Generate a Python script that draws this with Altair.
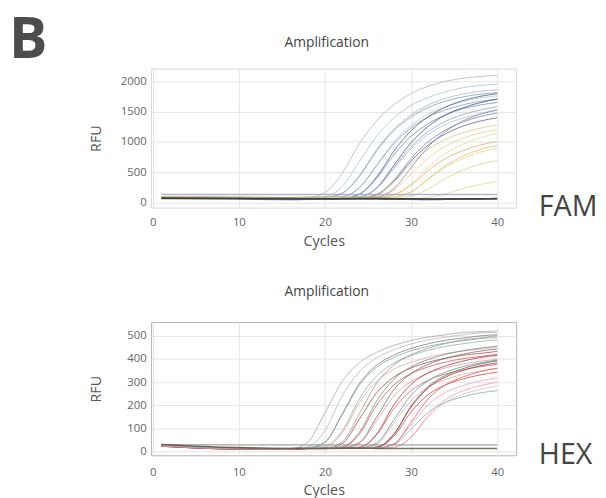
import altair as alt
import pandas as pd

CYCLES = [1, 10, 16, 18, 20, 22, 24, 26, 28, 30, 32, 34, 36, 38, 40]

# ---------------- FAM panel (RFU at CYCLES) ----------------
FAM_01 = [95, 85, 81, 85, 166, 488, 972, 1354, 1616, 1798, 1919, 1999, 2050, 2080, 2100]
FAM_02 = [90, 80, 76, 80, 99, 268, 682, 1095, 1396, 1603, 1734, 1828, 1894, 1932, 1951]
FAM_03 = [90, 80, 76, 80, 80, 152, 440, 872, 1214, 1448, 1610, 1718, 1790, 1835, 1862]
FAM_04 = [100, 90, 86, 90, 90, 160, 438, 856, 1186, 1412, 1569, 1673, 1743, 1787, 1813]
FAM_05 = [85, 75, 71, 75, 75, 92, 246, 623, 999, 1273, 1462, 1582, 1667, 1727, 1761]
FAM_06 = [95, 85, 81, 85, 85, 101, 249, 610, 972, 1234, 1415, 1530, 1612, 1670, 1702]
FAM_07 = [80, 70, 66, 70, 70, 70, 141, 424, 849, 1186, 1416, 1575, 1682, 1752, 1797]
FAM_08 = [90, 80, 76, 80, 80, 80, 144, 402, 789, 1095, 1304, 1449, 1546, 1610, 1651]
FAM_09 = [85, 75, 71, 75, 75, 75, 92, 244, 616, 988, 1259, 1445, 1563, 1648, 1707]
FAM_10 = [95, 85, 81, 85, 85, 85, 101, 240, 582, 923, 1171, 1342, 1451, 1528, 1583]
FAM_11 = [90, 80, 76, 80, 80, 80, 95, 229, 557, 886, 1124, 1289, 1393, 1468, 1520]
FAM_12 = [90, 80, 76, 80, 80, 80, 80, 139, 374, 727, 1007, 1198, 1330, 1419, 1477]
FAM_13 = [80, 70, 66, 70, 70, 70, 70, 126, 350, 686, 952, 1134, 1260, 1344, 1400]
FAM_14 = [100, 90, 86, 90, 90, 90, 90, 140, 340, 640, 878, 1041, 1153, 1228, 1278]
FAM_15 = [95, 85, 81, 85, 85, 85, 85, 97, 206, 471, 736, 929, 1062, 1146, 1207]
FAM_16 = [85, 75, 71, 75, 75, 75, 75, 91, 232, 577, 922, 1173, 1346, 1456, 1534]
FAM_17 = [90, 80, 76, 80, 80, 80, 80, 80, 127, 313, 592, 813, 964, 1069, 1138]
FAM_18 = [100, 90, 86, 90, 90, 90, 90, 90, 130, 292, 535, 727, 858, 949, 1010]
FAM_19 = [90, 80, 76, 80, 80, 80, 80, 80, 90, 178, 394, 610, 767, 875, 944]
FAM_20 = [95, 85, 81, 85, 85, 85, 85, 85, 94, 177, 379, 582, 729, 830, 895]
FAM_21 = [90, 80, 76, 80, 80, 80, 80, 80, 80, 109, 225, 399, 537, 631, 696]
FAM_22 = [85, 75, 71, 75, 75, 75, 75, 75, 75, 75, 89, 146, 232, 300, 346]
FAM_FLAT_1 = [136, 135, 134, 135, 135, 134, 135, 136, 135, 134, 135, 135, 136, 135, 135]
FAM_FLAT_2 = [78, 66, 58, 60, 62, 64, 66, 64, 62, 60, 58, 60, 62, 63, 64]
FAM_FLAT_3 = [70, 75, 72, 70, 68, 66, 68, 70, 66, 64, 62, 62, 64, 66, 68]

FAM_SERIES = [FAM_01, FAM_02, FAM_03, FAM_04, FAM_05, FAM_06, FAM_07, FAM_08,
              FAM_09, FAM_10, FAM_11, FAM_12, FAM_13, FAM_14, FAM_15, FAM_16,
              FAM_17, FAM_18, FAM_19, FAM_20, FAM_21, FAM_22,
              FAM_FLAT_1, FAM_FLAT_2, FAM_FLAT_3]
FAM_COLORS = ["#aab9cb", "#9cc4de", "#b3b5bd", "#7c9cc2", "#a9cde3", "#8d9cb3",
              "#475d88", "#6b8ec0", "#3f5480", "#9ba6b6", "#a3c5e6", "#7a89a4",
              "#56688a", "#e2c489", "#efc990", "#8b82a3", "#ead99f", "#e8ab5e",
              "#dab97b", "#e8d57a", "#d3d88a", "#d8dc9c",
              "#a0a0c4", "#2b3a5c", "#3c3c44"]
FAM_WIDTHS = [1] * 22 + [1.5, 2, 1.5]

# ---------------- HEX panel (RFU at CYCLES) ----------------
HEX_01 = [25, 12, 11, 40, 167, 303, 384, 429, 459, 480, 495, 505, 515, 518, 522]
HEX_02 = [25, 12, 11, 20, 90, 240, 345, 405, 440, 465, 483, 495, 505, 513, 515]
HEX_03 = [25, 12, 11, 15, 40, 162, 294, 373, 417, 446, 466, 481, 490, 500, 505]
HEX_04 = [25, 12, 11, 15, 39, 158, 287, 364, 407, 436, 455, 469, 479, 488, 493]
HEX_05 = [28, 15, 14, 18, 23, 88, 228, 326, 382, 415, 438, 455, 466, 476, 483]
HEX_06 = [24, 11, 10, 14, 18, 80, 211, 303, 356, 386, 408, 424, 434, 443, 450]
HEX_07 = [26, 13, 12, 16, 16, 41, 163, 295, 374, 418, 447, 467, 482, 491, 501]
HEX_08 = [22, 9, 8, 12, 12, 33, 140, 254, 322, 361, 386, 403, 416, 424, 433]
HEX_09 = [25, 12, 11, 15, 15, 20, 83, 218, 312, 366, 398, 420, 436, 447, 456]
HEX_10 = [23, 10, 9, 13, 13, 17, 75, 200, 287, 337, 366, 387, 401, 411, 420]
HEX_11 = [26, 13, 12, 16, 16, 16, 38, 148, 267, 337, 377, 403, 421, 434, 443]
HEX_12 = [24, 11, 10, 14, 14, 14, 34, 133, 240, 303, 339, 362, 378, 390, 398]
HEX_13 = [22, 9, 8, 12, 12, 12, 16, 75, 201, 290, 340, 370, 391, 406, 416]
HEX_14 = [25, 12, 11, 15, 15, 15, 19, 71, 184, 263, 308, 335, 353, 367, 376]
HEX_15 = [26, 13, 12, 16, 16, 16, 16, 36, 136, 243, 307, 343, 367, 383, 395]
HEX_16 = [23, 10, 9, 13, 13, 13, 13, 31, 122, 220, 279, 311, 333, 348, 359]
HEX_17 = [25, 12, 11, 15, 15, 15, 15, 19, 75, 196, 281, 329, 358, 378, 392]
HEX_18 = [22, 9, 8, 12, 12, 12, 12, 16, 65, 171, 246, 288, 313, 331, 343]
HEX_19 = [24, 11, 10, 14, 14, 14, 14, 18, 73, 192, 275, 322, 350, 370, 383]
HEX_20 = [26, 13, 12, 16, 16, 16, 16, 16, 32, 114, 203, 255, 285, 305, 318]
HEX_21 = [23, 10, 9, 13, 13, 13, 13, 13, 32, 126, 228, 288, 322, 345, 360]
HEX_22 = [25, 12, 11, 15, 15, 15, 15, 15, 18, 60, 149, 212, 247, 268, 283]
HEX_23 = [24, 11, 10, 14, 14, 14, 14, 14, 17, 62, 157, 224, 262, 284, 300]
HEX_24 = [25, 12, 11, 15, 15, 15, 15, 15, 29, 96, 169, 212, 236, 253, 263]
HEX_FLAT_1 = [29, 28, 28, 28, 28, 28, 28, 28, 28, 28, 28, 28, 28, 28, 28]
HEX_FLAT_2 = [30, 16, 12, 12, 13, 14, 14, 13, 12, 12, 12, 12, 12, 12, 12]

HEX_SERIES = [HEX_01, HEX_02, HEX_03, HEX_04, HEX_05, HEX_06, HEX_07, HEX_08,
              HEX_09, HEX_10, HEX_11, HEX_12, HEX_13, HEX_14, HEX_15, HEX_16,
              HEX_17, HEX_18, HEX_19, HEX_20, HEX_21, HEX_22, HEX_23, HEX_24,
              HEX_FLAT_1, HEX_FLAT_2]
HEX_COLORS = ["#a6a6a6", "#b8b8b8", "#7d7d7d", "#8aa898", "#86b896", "#eba3a3",
              "#999999", "#b04a4a", "#6f8f7f", "#d45555", "#707070", "#e99595",
              "#a83c3c", "#db6464", "#5e9c9c", "#eda5a5", "#4f6f62", "#cf4747",
              "#b03434", "#f0a3ab", "#da5d5d", "#f2b3b3", "#eb9aa5", "#74b5b5",
              "#8f8f8f", "#5a5040"]
HEX_WIDTHS = [1] * 24 + [1.3, 1.6]

X_TICKS = [0, 10, 20, 30, 40]
FAM_Y_TICKS = [0, 500, 1000, 1500, 2000]
HEX_Y_TICKS = [0, 100, 200, 300, 400, 500]
PANEL_TITLE = "Amplification"

FONT = "Open Sans"


def long_table(prefix, series, widths):
    rows = []
    for i, vals in enumerate(series):
        for c, v in zip(CYCLES, vals):
            rows.append({"curve": f"{prefix}{i:02d}", "cycle": c, "rfu": v, "w": widths[i]})
    return pd.DataFrame(rows)


def label(text, x, y, size, color, align="left", baseline="middle", weight="normal"):
    return alt.Chart(pd.DataFrame({"t": [text]})).mark_text(
        font=FONT, fontSize=size, color=color, align=align, baseline=baseline,
        fontWeight=weight
    ).encode(x=alt.value(x), y=alt.value(y), text="t:N")


def panel(prefix, series, colors, widths, ydomain, yticks, height, tag, tag_y,
          title_y, stroke, label_pad, title_pad, with_b):
    df = long_table(prefix, series, widths)
    names = [f"{prefix}{i:02d}" for i in range(len(series))]
    lines = alt.Chart(df).mark_line(interpolate="monotone", opacity=0.8).encode(
        x=alt.X("cycle:Q",
                scale=alt.Scale(domain=[-0.2, 42.2], nice=False, zero=False),
                axis=alt.Axis(values=X_TICKS, title="Cycles", grid=True,
                              gridColor="#e4e4e4", domain=False, ticks=False,
                              tickSize=0, labelPadding=label_pad, labelFont=FONT,
                              labelFontSize=11.5, labelColor="#666",
                              titleFont=FONT, titleFontSize=14.5,
                              titleFontWeight="normal", titleColor="#555",
                              titlePadding=title_pad, titleX=175)),
        y=alt.Y("rfu:Q",
                scale=alt.Scale(domain=ydomain, nice=False, zero=False),
                axis=alt.Axis(values=yticks, format="d", title="RFU", grid=True,
                              gridColor="#e4e4e4", domain=False, ticks=False,
                              tickSize=0, labelPadding=5, labelFont=FONT,
                              labelFontSize=11.5, labelColor="#666",
                              titleFont=FONT, titleFontSize=14.5,
                              titleFontWeight="normal", titleColor="#555",
                              titleX=-55, titleY=height / 2, titleAngle=270,
                              titleAlign="center", titleBaseline="middle")),
        color=alt.Color("curve:N", scale=alt.Scale(domain=names, range=colors),
                        legend=None),
        strokeWidth=alt.StrokeWidth("w:Q", scale=None),
    )
    layers = [lines,
              label(tag, 393, tag_y, 29, "#444"),
              label(PANEL_TITLE, 178, title_y, 14, "#444", align="center")]
    if with_b:
        layers.append(label("B", -144, -11, 58, "#4d4d4d",
                            baseline="alphabetic", weight="bold"))
    return alt.layer(*layers).properties(
        width=370, height=height,
        view=alt.ViewBackground(stroke=stroke, strokeWidth=1),
    )


top = panel("f", FAM_SERIES, FAM_COLORS, FAM_WIDTHS, [-81, 2211], FAM_Y_TICKS,
            141, "FAM", 140, -26, "#d8d8d8", 9, 7, True)
bottom = panel("h", HEX_SERIES, HEX_COLORS, HEX_WIDTHS, [-17, 560], HEX_Y_TICKS,
               135, "HEX", 135, -30, "#b4b4b4", 11, 6, False)

chart = alt.vconcat(top, bottom, spacing=116, bounds="flush").resolve_scale(
    color="independent", x="independent", y="independent"
).properties(padding=0, background="white")

chart.save("out.html", embed_options={"renderer": "svg", "actions": False})
